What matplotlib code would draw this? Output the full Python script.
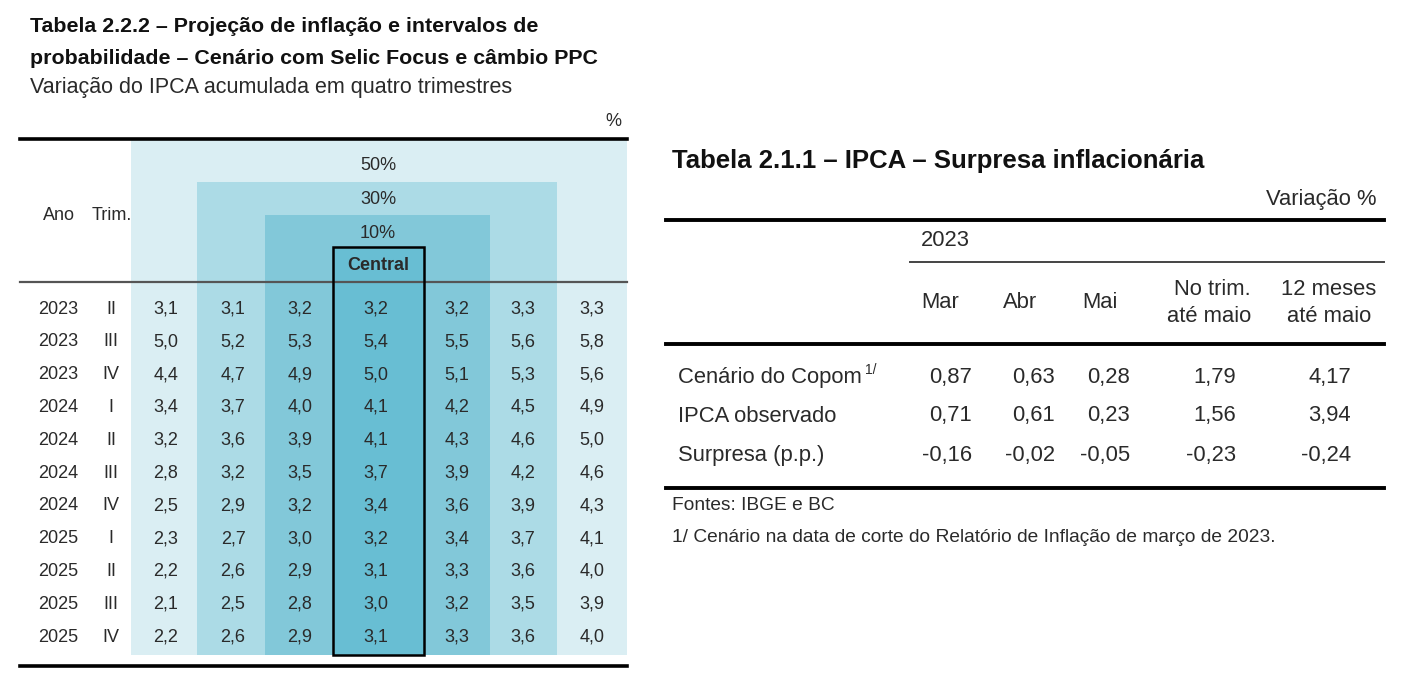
import matplotlib
matplotlib.use("Agg")
import matplotlib.pyplot as plt
from matplotlib.patches import Rectangle

plt.rcParams['font.family'] = ['Liberation Sans', 'DejaVu Sans']

# ---- left table data
anos = ['2023', '2023', '2023', '2024', '2024', '2024', '2024', '2025', '2025', '2025', '2025']
trims = ['II', 'III', 'IV', 'I', 'II', 'III', 'IV', 'I', 'II', 'III', 'IV']
faixas = ['50%', '30%', '10%', 'Central']
projecao = [
    [3.1, 3.1, 3.2, 3.2, 3.2, 3.3, 3.3],
    [5.0, 5.2, 5.3, 5.4, 5.5, 5.6, 5.8],
    [4.4, 4.7, 4.9, 5.0, 5.1, 5.3, 5.6],
    [3.4, 3.7, 4.0, 4.1, 4.2, 4.5, 4.9],
    [3.2, 3.6, 3.9, 4.1, 4.3, 4.6, 5.0],
    [2.8, 3.2, 3.5, 3.7, 3.9, 4.2, 4.6],
    [2.5, 2.9, 3.2, 3.4, 3.6, 3.9, 4.3],
    [2.3, 2.7, 3.0, 3.2, 3.4, 3.7, 4.1],
    [2.2, 2.6, 2.9, 3.1, 3.3, 3.6, 4.0],
    [2.1, 2.5, 2.8, 3.0, 3.2, 3.5, 3.9],
    [2.2, 2.6, 2.9, 3.1, 3.3, 3.6, 4.0],
]

# ---- right table data
meses = ['Mar', 'Abr', 'Mai', 'No trim.\naté maio', '12 meses\naté maio']
linhas = ['Cenário do Copom', 'IPCA observado', 'Surpresa (p.p.)']
surpresa = [
    [0.87, 0.63, 0.28, 1.79, 4.17],
    [0.71, 0.61, 0.23, 1.56, 3.94],
    [-0.16, -0.02, -0.05, -0.23, -0.24],
]


def br(v, nd=2):
    return ('%.*f' % (nd, v)).replace('.', ',')


fig = plt.figure(figsize=(14.28, 6.88), dpi=100)
ax = fig.add_axes([0, 0, 1, 1])
ax.set_xlim(0, 1428)
ax.set_ylim(688, 0)
ax.axis('off')

txt_c = '#2a2a2a'
fs_l = 13      # left table body
fs_r = 15.8    # right table body

# ================= left table =================
ax.text(30, 27, 'Tabela 2.2.2 – Projeção de inflação e intervalos de', fontsize=15.4,
        fontweight='bold', va='center', color='#111111')
ax.text(30, 58, 'probabilidade – Cenário com Selic Focus e câmbio PPC', fontsize=15.4,
        fontweight='bold', va='center', color='#111111')
ax.text(30, 88, 'Variação do IPCA acumulada em quatro trimestres', fontsize=15.5,
        va='center', color=txt_c)
ax.text(621, 121, '%', fontsize=fs_l, ha='right', va='center', color=txt_c)

# nested probability bands
boxes = [(131, 627, 139, '#daeef3'), (197, 557, 182, '#acdbe6'),
         (265, 490, 215, '#82c8d9'), (333, 424, 247, '#68bed3')]
bottom = 655
for x0, x1, y0, c in boxes:
    ax.add_patch(Rectangle((x0, y0), x1 - x0, bottom - y0, facecolor=c,
                           edgecolor='none', zorder=1))

ax.plot([20, 627], [139, 139], color='black', lw=2.6, zorder=3)
ax.plot([20, 627], [282, 282], color='#555555', lw=1.6, zorder=3)
ax.plot([20, 627], [666, 666], color='black', lw=2.6, zorder=3)
x0, x1, y0, c = boxes[3]
ax.add_patch(Rectangle((x0, y0), x1 - x0, bottom - y0, facecolor='none',
                       edgecolor='black', lw=1.8, zorder=4))

hy = [166, 199, 233, 266]
for lab, y in zip(faixas, hy):
    ax.text(378, y, lab, fontsize=fs_l, ha='center', va='center', color=txt_c,
            fontweight='bold' if lab == 'Central' else 'normal', zorder=5)
ax.text(59, 215, 'Ano', fontsize=fs_l, ha='center', va='center', color=txt_c)
ax.text(112, 215, 'Trim.', fontsize=fs_l, ha='center', va='center', color=txt_c)

col_x = [166, 233, 300, 376, 457, 523, 592]
for r in range(len(anos)):
    y = 309 + r * 32.8
    ax.text(58, y, anos[r], fontsize=fs_l, ha='center', va='center', color=txt_c)
    ax.text(111, y, trims[r], fontsize=fs_l, ha='center', va='center', color=txt_c)
    for cx, v in zip(col_x, projecao[r]):
        ax.text(cx, y, br(v, 1), fontsize=fs_l, ha='center', va='center',
                color=txt_c, zorder=5)

# ================= right table =================
ax.text(672, 161, 'Tabela 2.1.1 – IPCA – Surpresa inflacionária', fontsize=18.5,
        fontweight='bold', va='center', color='#111111')
ax.text(1377, 200, 'Variação %', fontsize=fs_r, ha='right', va='center', color=txt_c)
ax.plot([666, 1384], [220, 220], color='black', lw=2.8)
ax.text(921, 241, '2023', fontsize=fs_r, va='center', color=txt_c)
ax.plot([910, 1384], [262, 262], color='#444444', lw=1.4)
ax.plot([666, 1384], [344, 344], color='black', lw=2.8)
ax.plot([666, 1384], [488, 488], color='black', lw=2.8)

head_x = [940, 1020, 1100, 1251, 1329]
head_ha = ['center', 'center', 'center', 'right', 'center']
for lab, hx, ha in zip(meses, head_x, head_ha):
    ax.text(hx, 303, lab, fontsize=fs_r, ha=ha, va='center', color=txt_c,
            multialignment=ha, linespacing=1.4)

val_x = [972, 1055, 1130, 1236, 1351]
row_y = [377, 416, 455]
for lab, ry, vals in zip(linhas, row_y, surpresa):
    ax.text(678, ry, lab, fontsize=fs_r, va='center', color=txt_c)
    for vx, v in zip(val_x, vals):
        ax.text(vx, ry, br(v), fontsize=fs_r, ha='right', va='center', color=txt_c)
ax.text(865, 370, '1/', fontsize=10, va='center', color=txt_c)

ax.text(672, 506, 'Fontes: IBGE e BC', fontsize=13.8, va='center', color=txt_c)
ax.text(672, 538, '1/ Cenário na data de corte do Relatório de Inflação de março de 2023.',
        fontsize=13.8, va='center', color=txt_c)

fig.savefig('out.png', dpi=100, facecolor='white')
